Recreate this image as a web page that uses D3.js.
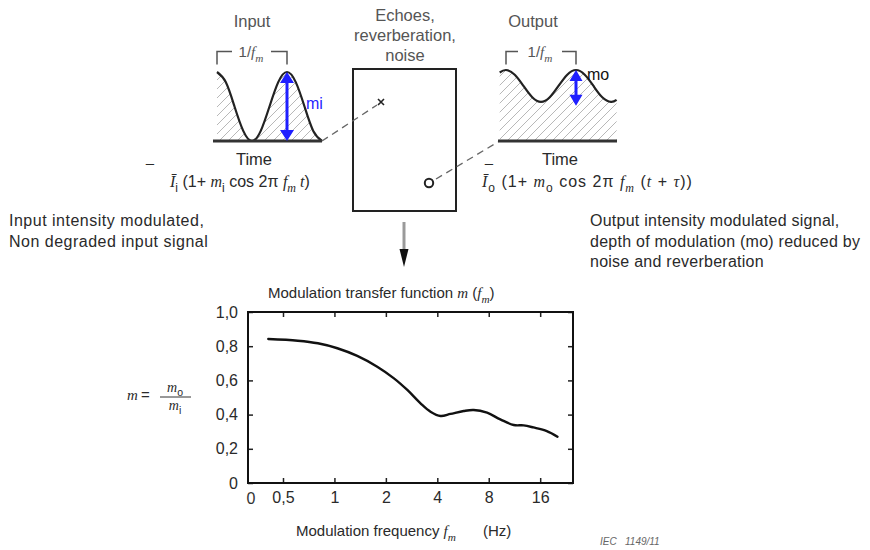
<!DOCTYPE html>
<html>
<head>
<meta charset="utf-8">
<script src="https://cdn.jsdelivr.net/npm/d3@7"></script>
<style>
    body { margin: 0; background: #fff; }
    text { font-family: "Liberation Sans", Arial, sans-serif; fill: #2a2a2a; white-space: pre; }
    .it { font-family: "Liberation Serif", "Times New Roman", serif; font-style: italic; }
</style>
</head>
<body>
<svg id="chart" width="870" height="550"></svg>
<script>
(function(){
    'use strict';

    // modulation transfer function
    var mtfFreq = [0.41, 0.61, 0.80, 1.04, 1.36, 1.78, 2.23, 2.67, 3.19, 3.65, 4.18, 4.78, 5.71, 6.53, 7.82, 9.35, 11.2, 12.8, 14.6, 17.5, 20.2];
    var mtfValue = [0.842, 0.832, 0.817, 0.788, 0.743, 0.680, 0.612, 0.544, 0.466, 0.417, 0.392, 0.404, 0.421, 0.427, 0.411, 0.372, 0.339, 0.337, 0.325, 0.304, 0.271];

    var freqTicks = [0.5, 1, 2, 4, 8, 16];
    var freqTickLabels = ['0,5', '1', '2', '4', '8', '16'];
    var mTicks = [0, 0.2, 0.4, 0.6, 0.8, 1.0];
    var mTickLabels = ['0', '0,2', '0,4', '0,6', '0,8', '1,0'];

    // input / output intensity sketches (phase in periods, intensity relative to mean)
    var inPhase = [0, 0.125, 0.25, 0.375, 0.5, 0.625, 0.75, 0.875, 1, 1.125, 1.25, 1.375, 1.5];
    var inLevel = [2, 1.707, 1, 0.293, 0, 0.293, 1, 1.707, 2, 1.707, 1, 0.293, 0];
    var outPhase = [-0.09, 0, 0.125, 0.25, 0.375, 0.5, 0.625, 0.75, 0.875, 1, 1.125, 1.25, 1.375, 1.5, 1.58];
    var outLevel = [1.245, 1.29, 1.205, 1, 0.795, 0.71, 0.795, 1, 1.205, 1.29, 1.205, 1, 0.795, 0.71, 0.746];

    var svg = d3.select('#chart');
    var blue = '#1f1fff';

    var defs = svg.append('defs');
    defs.append('pattern').attr('id', 'hatch')
        .attr('patternUnits', 'userSpaceOnUse').attr('width', 9).attr('height', 9)
        .append('path').attr('d', 'M-2,2 l4,-4 M0,9 l9,-9 M7,11 l4,-4')
        .attr('stroke', '#b8b8b8').attr('stroke-width', 1);

    // text made of sans / italic serif / subscript pieces
    function rich(g, x, y, parts, size, anchor) {
        var t = g.append('text').attr('x', x).attr('y', y)
            .style('font-size', size + 'px').attr('text-anchor', anchor || 'start');
        var cur = 0;
        parts.forEach(function(p) {
            var s = t.append('tspan').text(p[0]);
            var target = p[1].indexOf('s') >= 0 ? size * 0.3 : 0;
            if (p[1].indexOf('i') >= 0) s.attr('class', 'it');
            if (p[1].indexOf('s') >= 0) s.style('font-size', (size * 0.75) + 'px');
            if (target !== cur) { s.attr('dy', target - cur); cur = target; }
        });
        return t;
    }

    function dblArrow(g, x, y1, y2, w, l) {
        g.append('line').attr('x1', x).attr('x2', x).attr('y1', y1 + l - 2).attr('y2', y2 - l + 2)
            .attr('stroke', blue).attr('stroke-width', 3);
        g.append('path').attr('fill', blue)
            .attr('d', 'M' + x + ',' + y1 + 'L' + (x - w / 2) + ',' + (y1 + l) + 'L' + (x + w / 2) + ',' + (y1 + l) + 'Z' +
                'M' + x + ',' + y2 + 'L' + (x - w / 2) + ',' + (y2 - l) + 'L' + (x + w / 2) + ',' + (y2 - l) + 'Z');
    }

    function bracket(g, x1, x2, y, gap1, gap2) {
        g.append('path').attr('fill', 'none').attr('stroke', '#555').attr('stroke-width', 1.5)
            .attr('d', 'M' + x1 + ',' + (y + 13) + 'V' + y + 'H' + gap1 + 'M' + gap2 + ',' + y + 'H' + x2 + 'V' + (y + 13));
    }

    var baseY = 141;

    // ---------- input panel ----------
    var inX = d3.scaleLinear().domain([0, 1]).range([217, 287]);
    var inY = d3.scaleLinear().domain([0, 2]).range([baseY, 72]);
    var inG = svg.append('g');
    var inPts = inPhase.map(function(p, i) { return [p, inLevel[i]]; });

    inG.append('path').datum(inPts)
        .attr('d', d3.area().x(function(d) { return inX(d[0]); }).y0(baseY).y1(function(d) { return inY(d[1]); }).curve(d3.curveNatural))
        .attr('fill', 'url(#hatch)');
    inG.append('path').datum(inPts)
        .attr('d', d3.line().x(function(d) { return inX(d[0]); }).y(function(d) { return inY(d[1]); }).curve(d3.curveNatural))
        .attr('fill', 'none').attr('stroke', '#222').attr('stroke-width', 2.2);
    inG.append('line').attr('x1', 213).attr('x2', inX(1.5)).attr('y1', baseY).attr('y2', baseY)
        .attr('stroke', '#333').attr('stroke-width', 3);
    dblArrow(inG, inX(1), inY(2), inY(0), 14, 11);
    inG.append('text').attr('x', 306).attr('y', 109).style('font-size', '16px').style('fill', blue).text('mi');
    inG.append('text').attr('x', 252).attr('y', 27).attr('text-anchor', 'middle').style('font-size', '16.5px').style('fill', '#555').text('Input');
    bracket(inG, inX(0), inX(1), 51.5, 232, 271);
    rich(inG, 251, 57, [['1/', ''], ['f', 'i'], ['m', 'is']], 15, 'middle').style('fill', '#555');
    inG.append('text').attr('x', 254).attr('y', 165).attr('text-anchor', 'middle').style('font-size', '16.5px').text('Time');
    inG.append('text').attr('x', 150).attr('y', 168).attr('text-anchor', 'middle').style('font-size', '15px').text('–');
    rich(inG, 170, 187, [['Ī', 'i'], ['i', 's'], [' (1+ ', ''], ['m', 'i'], ['i', 's'], [' cos 2π ', ''], ['f', 'i'], ['m', 'is'], [' t', 'i'], [')', '']], 16);

    // ---------- room box ----------
    var boxG = svg.append('g');
    boxG.append('rect').attr('x', 353).attr('y', 69).attr('width', 103).attr('height', 142)
        .attr('fill', 'none').attr('stroke', '#222').attr('stroke-width', 2);
    ['Echoes,', 'reverberation,', 'noise'].forEach(function(s, i) {
        boxG.append('text').attr('x', 405).attr('y', 21 + i * 20).attr('text-anchor', 'middle')
            .style('font-size', '16.5px').style('fill', '#555').text(s);
    });
    boxG.append('path').attr('d', 'M378,99l6,6M384,99l-6,6').attr('stroke', '#222').attr('stroke-width', 1.6);
    boxG.append('circle').attr('cx', 429).attr('cy', 183).attr('r', 4.2)
        .attr('fill', 'none').attr('stroke', '#222').attr('stroke-width', 2);
    boxG.append('line').attr('x1', inX(1.5)).attr('y1', baseY).attr('x2', 377).attr('y2', 105)
        .attr('stroke', '#666').attr('stroke-width', 1.3).attr('stroke-dasharray', '7,5');
    boxG.append('line').attr('x1', 436).attr('y1', 179).attr('x2', 498).attr('y2', baseY + 1)
        .attr('stroke', '#666').attr('stroke-width', 1.3).attr('stroke-dasharray', '7,5');
    // down arrow to the chart
    boxG.append('line').attr('x1', 404).attr('x2', 404).attr('y1', 222).attr('y2', 250)
        .attr('stroke', '#9a9a9a').attr('stroke-width', 3);
    boxG.append('path').attr('d', 'M399.5,249L408.5,249L404,267Z').attr('fill', '#111');

    // ---------- output panel ----------
    var outX = d3.scaleLinear().domain([0, 1]).range([506, 576]);
    var outY = d3.scaleLinear().domain([0, 1.29]).range([baseY, 70]);
    var outG = svg.append('g');
    var outPts = outPhase.map(function(p, i) { return [p, outLevel[i]]; });

    outG.append('path').datum(outPts)
        .attr('d', d3.area().x(function(d) { return outX(d[0]); }).y0(baseY).y1(function(d) { return outY(d[1]); }).curve(d3.curveNatural))
        .attr('fill', 'url(#hatch)');
    outG.append('path').datum(outPts)
        .attr('d', d3.line().x(function(d) { return outX(d[0]); }).y(function(d) { return outY(d[1]); }).curve(d3.curveNatural))
        .attr('fill', 'none').attr('stroke', '#222').attr('stroke-width', 2.2);
    outG.append('line').attr('x1', 498).attr('x2', 617).attr('y1', baseY).attr('y2', baseY)
        .attr('stroke', '#333').attr('stroke-width', 3);
    dblArrow(outG, outX(1), outY(1.29), outY(0.64), 13, 11);
    outG.append('text').attr('x', 587).attr('y', 80).style('font-size', '16px').style('fill', '#111').text('mo');
    outG.append('text').attr('x', 533).attr('y', 27).attr('text-anchor', 'middle').style('font-size', '16.5px').style('fill', '#555').text('Output');
    bracket(outG, outX(0), outX(1), 51.5, 518, 562);
    rich(outG, 540, 57, [['1/', ''], ['f', 'i'], ['m', 'is']], 15, 'middle').style('fill', '#555');
    outG.append('text').attr('x', 560).attr('y', 165).attr('text-anchor', 'middle').style('font-size', '16.5px').text('Time');
    outG.append('text').attr('x', 489).attr('y', 168).attr('text-anchor', 'middle').style('font-size', '15px').text('–');
    rich(outG, 482, 187, [['Ī', 'i'], ['o', 's'], [' (1+ ', ''], ['m', 'i'], ['o', 's'], [' cos 2π ', ''], ['f', 'i'], ['m', 'is'], [' (', ''], ['t', 'i'], [' + ', ''], ['τ', 'i'], ['))', '']], 16)
        .style('letter-spacing', '1px');

    // ---------- side notes ----------
    ['Input intensity modulated,', 'Non degraded input signal'].forEach(function(s, i) {
        svg.append('text').attr('x', 9).attr('y', 226 + i * 21).style('font-size', '16px')
            .style('letter-spacing', '0.5px').text(s);
    });
    ['Output intensity modulated signal,', 'depth of modulation (mo) reduced by', 'noise and reverberation'].forEach(function(s, i) {
        svg.append('text').attr('x', 590).attr('y', 226 + i * 20.5).style('font-size', '16px')
            .style('letter-spacing', '0.25px').text(s);
    });

    // ---------- MTF chart ----------
    var x = d3.scaleLog().base(2).domain([0.312, 24.9]).range([248, 573]);
    var y = d3.scaleLinear().domain([0, 1]).range([483, 312]);
    var chart = svg.append('g');

    function styleAxis(g) {
        g.select('.domain').remove();
        g.selectAll('.tick line').attr('stroke', '#222').attr('stroke-width', 1.5);
        g.selectAll('.tick text').style('font-size', '16px').style('font-family', '"Liberation Sans", Arial, sans-serif').attr('fill', '#333');
    }

    chart.append('g').attr('transform', 'translate(0,' + y(0) + ')')
        .call(d3.axisBottom(x).tickValues(freqTicks).tickSize(-5).tickPadding(9)
            .tickFormat(function(d, i) { return freqTickLabels[i]; }))
        .call(styleAxis);
    chart.append('g').attr('transform', 'translate(0,' + y(1) + ')')
        .call(d3.axisTop(x).tickValues(freqTicks).tickSize(-5).tickFormat(''))
        .call(styleAxis);
    chart.append('g').attr('transform', 'translate(' + x.range()[0] + ',0)')
        .call(d3.axisLeft(y).tickValues(mTicks).tickSize(-5).tickPadding(10)
            .tickFormat(function(d, i) { return mTickLabels[i]; }))
        .call(styleAxis);
    chart.append('g').attr('transform', 'translate(' + x.range()[1] + ',0)')
        .call(d3.axisRight(y).tickValues(mTicks).tickSize(-5).tickFormat(''))
        .call(styleAxis);
    chart.append('text').attr('x', x.range()[0] + 3).attr('y', 504).attr('text-anchor', 'middle')
        .style('font-size', '16px').style('fill', '#333').text('0');

    chart.append('rect').attr('x', x.range()[0]).attr('y', y(1))
        .attr('width', x.range()[1] - x.range()[0]).attr('height', y(0) - y(1))
        .attr('fill', 'none').attr('stroke', '#111').attr('stroke-width', 2);

    var pts = mtfFreq.map(function(f, i) { return [f, mtfValue[i]]; });
    chart.append('path').datum(pts)
        .attr('d', d3.line().x(function(d) { return x(d[0]); }).y(function(d) { return y(d[1]); }).curve(d3.curveCatmullRom.alpha(0.5)))
        .attr('fill', 'none').attr('stroke', '#111').attr('stroke-width', 2.4).attr('stroke-linecap', 'round');

    rich(chart, 268, 298, [['Modulation transfer function ', ''], ['m', 'i'], [' (', ''], ['f', 'i'], ['m', 'is'], [')', '']], 15);
    rich(chart, 296, 536, [['Modulation frequency ', ''], ['f', 'i'], ['m', 'is']], 15);
    chart.append('text').attr('x', 483).attr('y', 536).style('font-size', '15px').text('(Hz)');

    // m = mo / mi
    rich(chart, 127, 400, [['m', 'i']], 15);
    chart.append('text').attr('x', 141).attr('y', 400).style('font-size', '15px').text('=');
    rich(chart, 175, 392, [['m', 'i'], ['o', 's']], 14, 'middle');
    chart.append('line').attr('x1', 160).attr('x2', 191).attr('y1', 397).attr('y2', 397)
        .attr('stroke', '#333').attr('stroke-width', 1);
    rich(chart, 175, 410, [['m', 'i'], ['i', 's']], 14, 'middle');

    svg.append('text').attr('x', 600).attr('y', 545).style('font-size', '10px')
        .style('font-style', 'italic').style('fill', '#666').text('IEC   1149/11');
})();
</script>
</body>
</html>
